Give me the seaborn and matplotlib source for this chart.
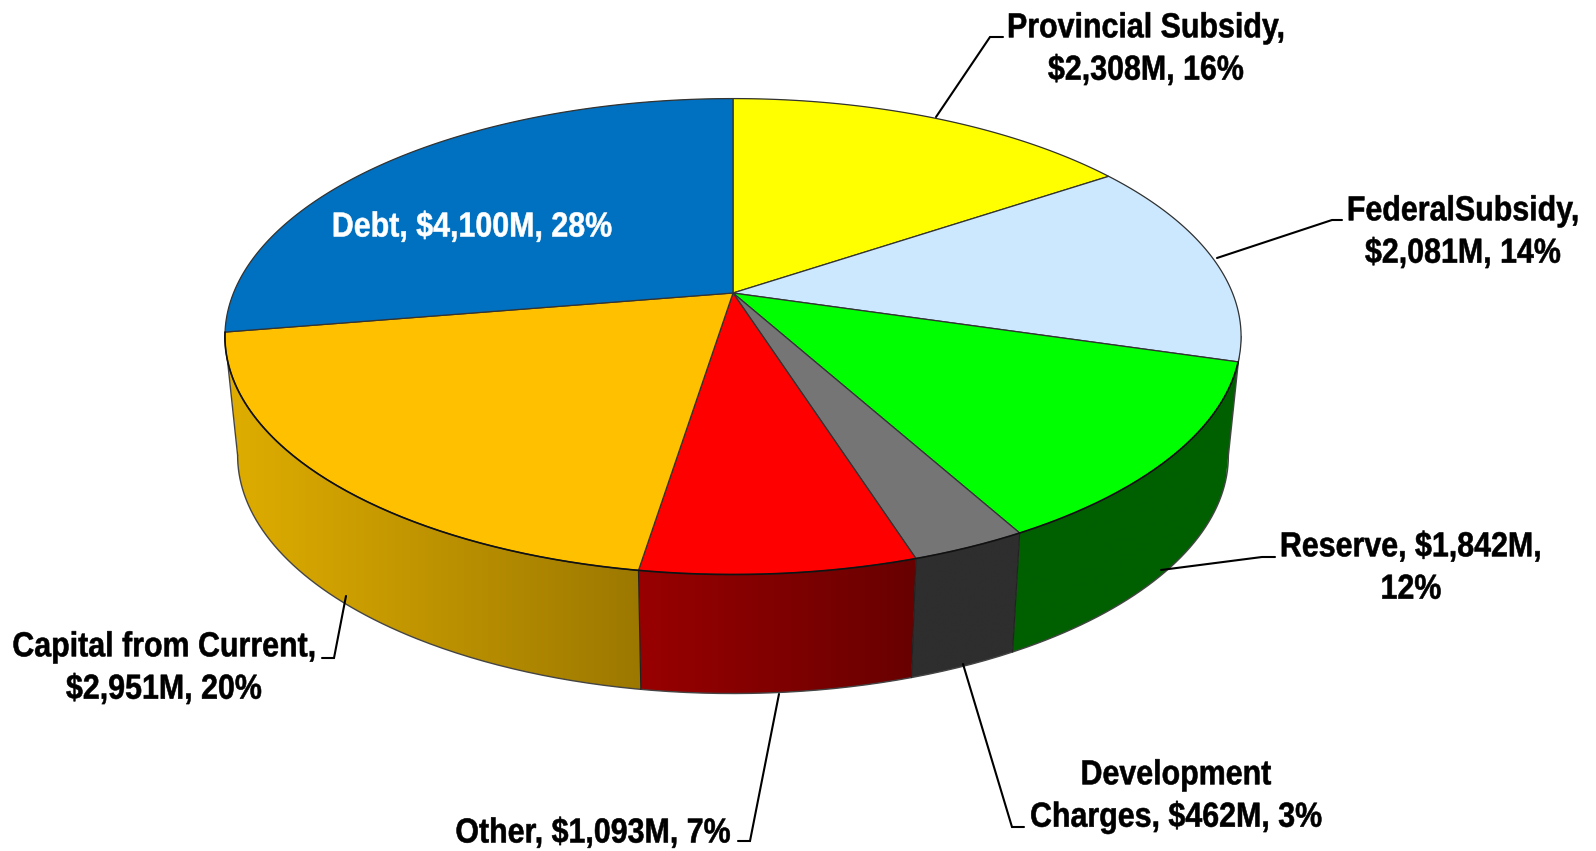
import numpy as np
import matplotlib
matplotlib.use("Agg")
import matplotlib.pyplot as plt
import seaborn as sns
from matplotlib.colors import to_rgb
from matplotlib.patches import Polygon
from matplotlib.patheffects import AbstractPathEffect
from matplotlib.text import Text
from matplotlib.transforms import Affine2D, Bbox

# Anteile im Uhrzeigersinn, Start oben
names = ["Provincial Subsidy", "FederalSubsidy", "Reserve", "Development Charges", "Other", "Capital from Current", "Debt"]
values = [2308, 2081, 1842, 462, 1093, 2951, 4100]
labels = ["Provincial Subsidy,\n$2,308M, 16%", "FederalSubsidy,\n$2,081M, 14%", "Reserve, $1,842M,\n12%",
          "Development\nCharges, $462M, 3%", "Other, $1,093M, 7%", "Capital from Current,\n$2,951M, 20%",
          "Debt, $4,100M, 28%"]
top_colors = ["#FFFF00", "#CCE8FF", "#00FF00", "#757575", "#FF0000", "#FFC000", "#0070C0"]
# Seitenflaechen: Farbe am rechten und linken Rand
side_right = ["#999900", "#006000", "#006000", "#2E2E2E", "#680000", "#9C7800", "#E0AE00"]
side_left = ["#999900", "#006000", "#006000", "#2E2E2E", "#990000", "#E0AE00", "#E0AE00"]

# Beschriftung: Textmitte und Fuehrungslinie (Pixel)
label_pos = [(1146, 49), (1463, 232), (1411, 568), (1176, 796), (593, 833), (164, 668), (472, 227)]
leaders = [[(936, 117), (990, 37), (1003, 37)],
           [(1217, 258), (1332, 220), (1342, 220)],
           [(1161, 570), (1262, 557), (1275, 557)],
           [(963, 664), (1012, 827), (1024, 827)],
           [(779, 694), (750, 841), (738, 841)],
           [(346, 596), (334, 658), (322, 658)],
           None]

# Geometrie der Perspektive
cx, cy = 733, 293
rx, ry = 499.5, 230
persp = 0.183
depth = 119
shrink = 0.975
squeeze = 0.875

sns.set_theme(style="white")
plt.rcParams["font.family"] = ["Liberation Sans", "DejaVu Sans"]
palette_top = sns.color_palette(top_colors)


def project(theta, bottom=False):
    x = np.sin(theta)
    y = np.cos(theta)
    w = 1 + persp * y
    px = rx * x / w
    py = cy - ry * y / w
    if bottom:
        return cx + shrink * px, py + depth
    return cx + px, py


# Arial Narrow gibt es nicht, also Schrift horizontal stauchen und leicht verstaerken
class Squeeze(AbstractPathEffect):
    def __init__(self, xc, factor):
        super().__init__()
        self.xc = xc
        self.factor = factor

    def draw_path(self, renderer, gc, tpath, affine, rgbFace=None):
        squeezed = affine + Affine2D().translate(-self.xc, 0).scale(self.factor, 1).translate(self.xc, 0)
        gc0 = renderer.new_gc()
        gc0.copy_properties(gc)
        gc0.set_linewidth(0.4)
        gc0.set_foreground(rgbFace)
        renderer.draw_path(gc0, tpath, squeezed, rgbFace)
        gc0.restore()


class NarrowText(Text):
    def get_window_extent(self, renderer=None, dpi=None):
        bb = super().get_window_extent(renderer, dpi)
        xc = (bb.x0 + bb.x1) / 2
        half = bb.width * squeeze / 2
        return Bbox.from_extents(xc - half, bb.y0, xc + half, bb.y1)


fig = plt.figure(figsize=(15.96, 8.51), dpi=100)
ax = fig.add_axes([0, 0, 1, 1])
ax.axis("off")

fractions = np.cumsum([0] + values) / np.sum(values)
angles = 2 * np.pi * fractions

# Seitenflaechen mit Verlauf
for i in [0, 1, 6, 2, 5, 3, 4]:
    steps = np.linspace(angles[i], angles[i + 1], 120)
    xt, yt = project(steps)
    xb, yb = project(steps, bottom=True)
    poly_x = np.r_[xt, xb[::-1]]
    poly_y = np.r_[yt, yb[::-1]]
    ramp = np.linspace(to_rgb(side_left[i]), to_rgb(side_right[i]), 256)[np.newaxis, :, :]
    img = ax.imshow(ramp, extent=(poly_x.min(), poly_x.max(), poly_y.max(), poly_y.min()),
                    aspect="auto", interpolation="bilinear", zorder=1)
    clip = Polygon(np.c_[poly_x, poly_y], closed=True, transform=ax.transData)
    img.set_clip_path(clip)

ax.set_xlim(0, 1596)
ax.set_ylim(851, 0)

# Kanten unten und zwischen den Seiten
theta = np.linspace(np.radians(100.5), np.radians(259.5), 400)
xb, yb = project(theta, bottom=True)
ax.plot(xb, yb, color="#444444", lw=1.0, zorder=2)
for a in angles[3:6]:
    x0, y0 = project(a)
    x1, y1 = project(a, bottom=True)
    ax.plot([x0, x1], [y0, y1], color="#222222", lw=0.9, zorder=2)
for a in np.radians([100.5, 259.5]):
    x0, y0 = project(a)
    x1, y1 = project(a, bottom=True)
    ax.plot([x0, x1], [y0, y1], color="#444444", lw=1.0, zorder=2)

# Oberseite
for i in range(len(values)):
    steps = np.linspace(angles[i], angles[i + 1], 120)
    xt, yt = project(steps)
    ax.fill(np.r_[cx, xt], np.r_[cy, yt], facecolor=palette_top[i], edgecolor="#333333", lw=0.9, zorder=3)

# Vordere Kante etwas kraeftiger
xf, yf = project(np.linspace(angles[2], angles[6], 300))
ax.plot(xf, yf, color="#111111", lw=1.2, zorder=3.5)

# Fuehrungslinien und Text
for i in range(len(values)):
    if leaders[i] is not None:
        lx, ly = zip(*leaders[i])
        ax.plot(lx, ly, color="black", lw=1.5, zorder=4, solid_joinstyle="miter")
    t = NarrowText(label_pos[i][0], label_pos[i][1], labels[i], ha="center", va="center", multialignment="center",
                   fontsize=25, fontweight="bold", linespacing=1.36,
                   color="white" if names[i] == "Debt" else "black", zorder=5)
    t.set_path_effects([Squeeze(label_pos[i][0], squeeze)])
    ax.add_artist(t)

fig.savefig("out.png", dpi=100, facecolor="white")
